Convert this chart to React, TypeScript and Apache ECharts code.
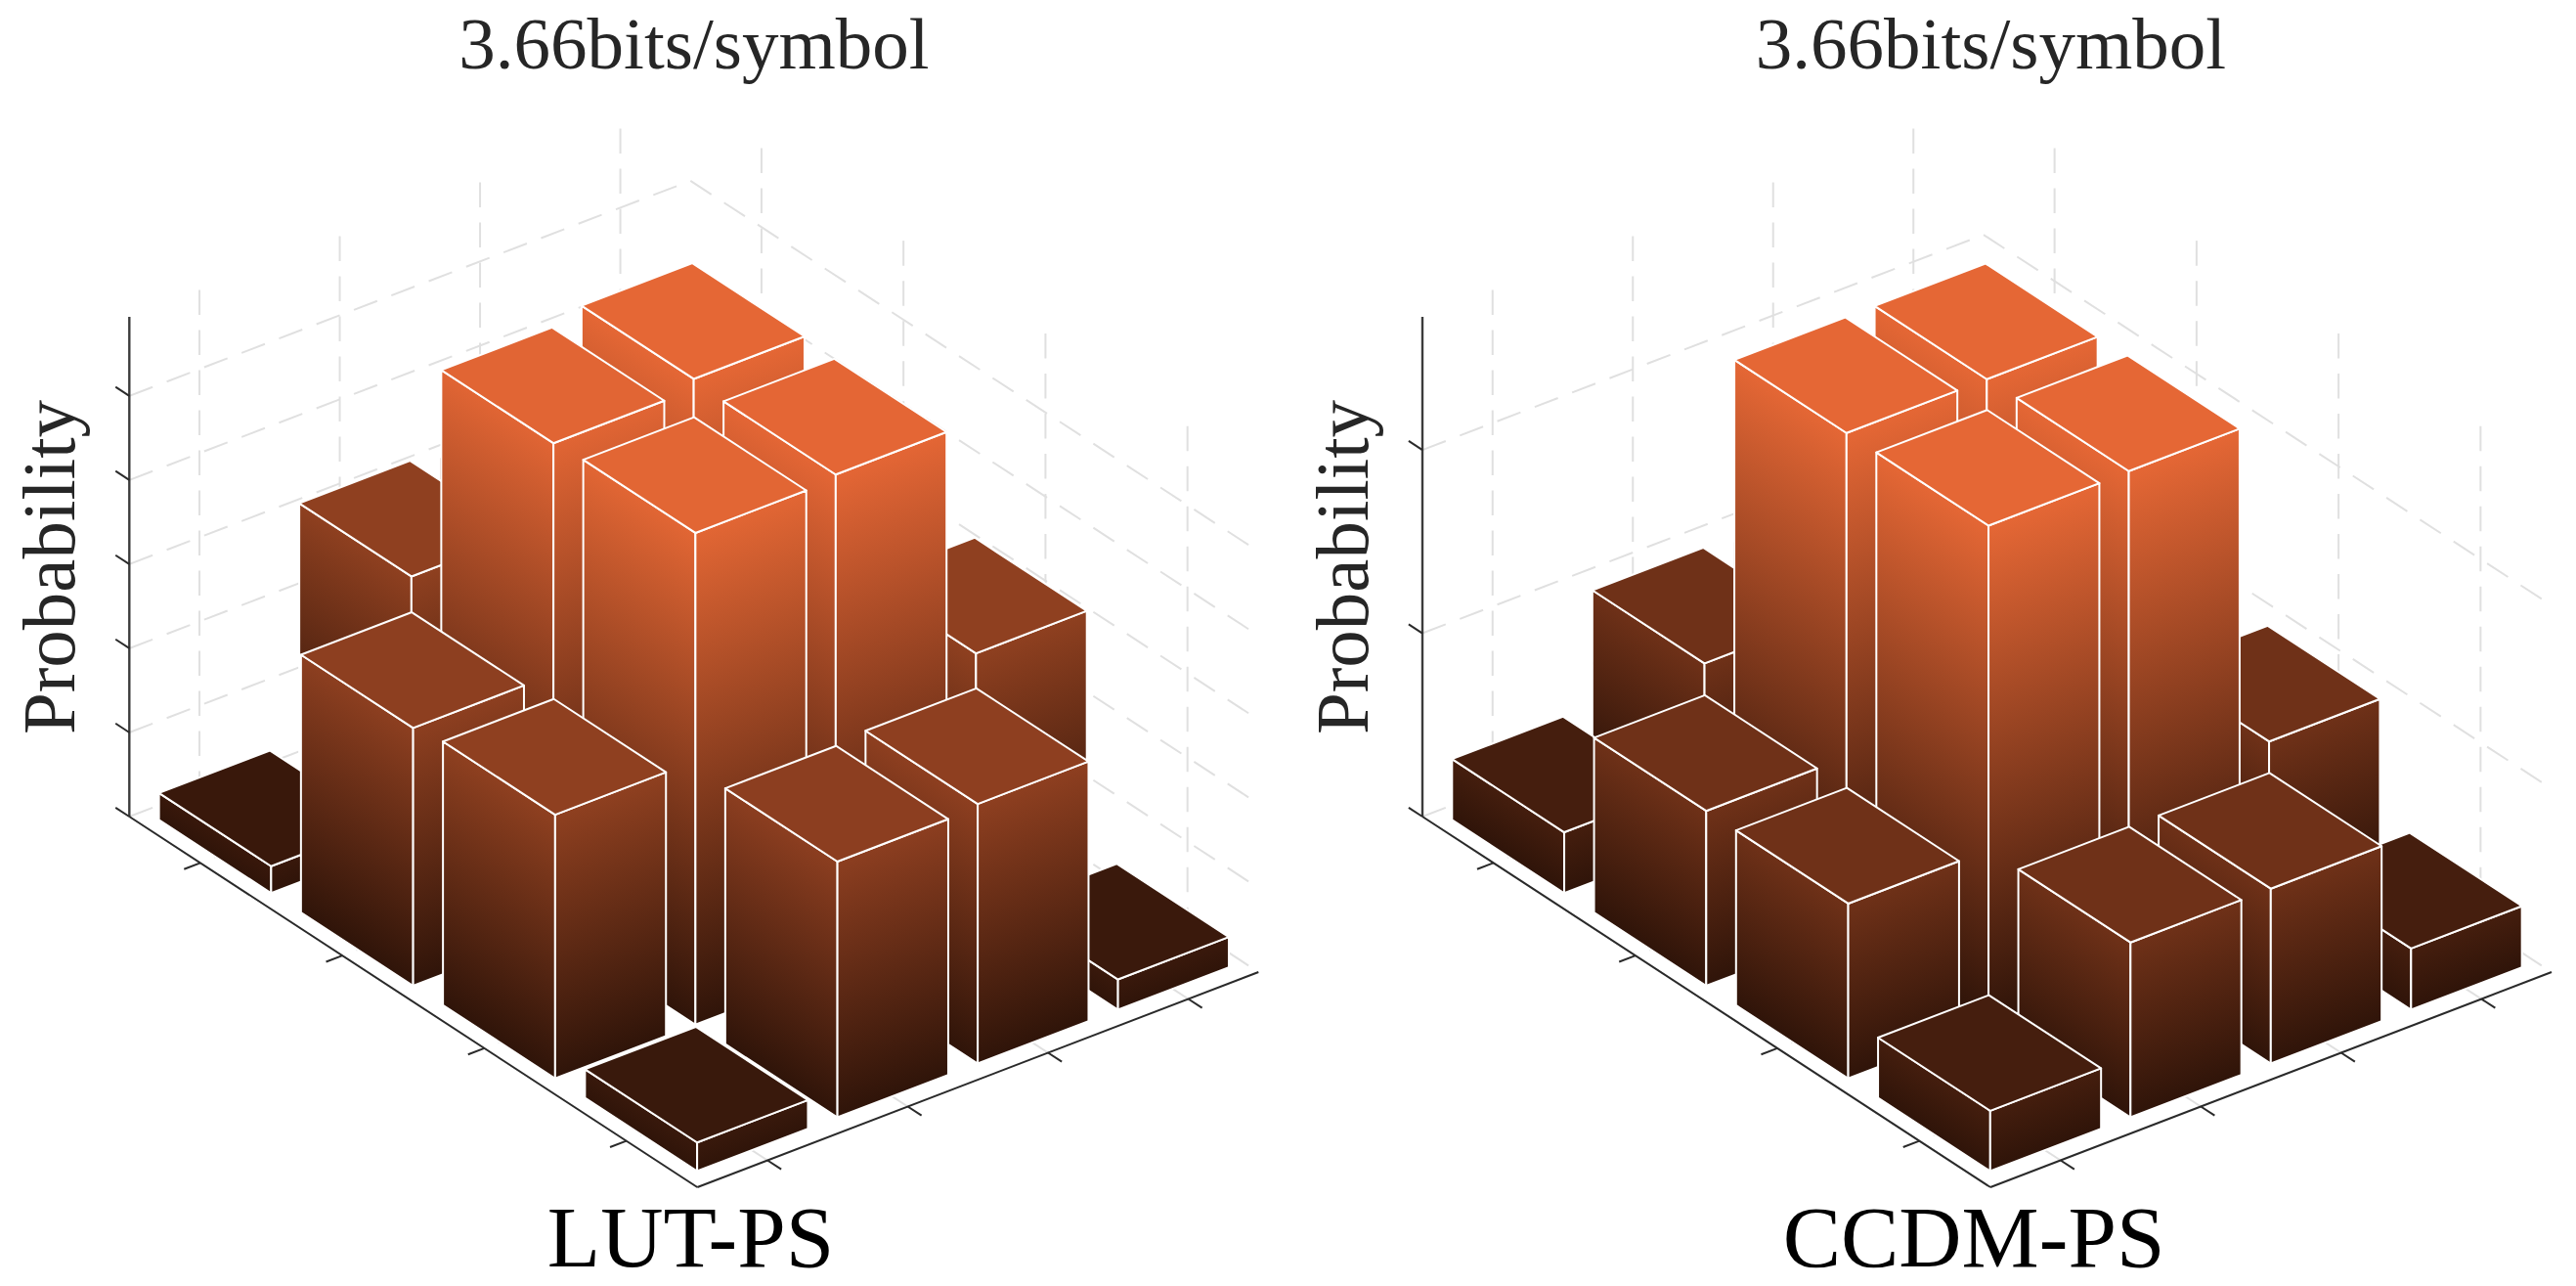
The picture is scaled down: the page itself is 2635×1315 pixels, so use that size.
import React, { useEffect, useRef } from "react";
import * as echarts from "echarts";

const lutHeights = [
  [0.0068, 0.0608, 0.0617, 0.0072],
  [0.0627, 0.1169, 0.118, 0.0627],
  [0.0613, 0.1162, 0.1187, 0.0610],
  [0.0064, 0.0625, 0.0610, 0.0066],
];
const ccdmHeights = [
  [0.01645, 0.0477, 0.0477, 0.0167],
  [0.0477, 0.1361, 0.1363, 0.0479],
  [0.0477, 0.1361, 0.1361, 0.047],
  [0.0166, 0.048, 0.047, 0.0166],
];
const lutZTicks = [0, 0.02, 0.04, 0.06, 0.08, 0.1];
const ccdmZTicks = [0, 0.05, 0.1];
const floorTicks = [0.5, 1.5, 2.5, 3.5];
const lutZTop = 0.1188;
const ccdmZTop = 0.1363;
const titleText = "3.66bits/symbol";
const yLabel = "Probability";
const lutLabel = "LUT-PS";
const ccdmLabel = "CCDM-PS";

const SERIF = '"Liberation Serif", serif';
const DARK = [47, 20, 9];
const ORANGE = [229, 103, 53];
const GRID_W = 1155;
const GRID_H = 1110;
const X_V = 143.5 / 145.25;
const F_U = 94.75 / GRID_H;
const F_V = 55 / GRID_H;
const GAP = 0.11;
const BAR = 0.79;

const mix = (t: number) => {
  const c = DARK.map((d, i) => Math.round(d + (ORANGE[i] - d) * t));
  return `rgb(${c[0]},${c[1]},${c[2]})`;
};

function panelSeries(index: number, heights: number[][], zTicks: number[], zTop: number) {
  const yMax = (zTop * GRID_H) / 511;
  const proj = (api: any, u: number, v: number, z: number) =>
    api.coord([v * X_V - u, z + yMax * (u * F_U + v * F_V)]);

  const dash = (a: number[], b: number[]) => ({
    type: "line",
    shape: { x1: a[0], y1: a[1], x2: b[0], y2: b[1] },
    style: { stroke: "#e0e0e0", lineWidth: 2, lineDash: [25.5, 15.5], fill: null },
  });
  const solid = (a: number[], b: number[], stroke = "#2a2a2a", lineWidth = 2) => ({
    type: "line",
    shape: { x1: a[0], y1: a[1], x2: b[0], y2: b[1] },
    style: { stroke, lineWidth, fill: null },
  });

  const axes = { xAxisIndex: index, yAxisIndex: index, silent: true, type: "custom" as const };

  const wallSeries = {
    ...axes,
    data: zTicks.map((z) => [z]),
    renderItem: (_: any, api: any) => {
      const z = api.value(0);
      return {
        type: "group",
        children: [
          dash(proj(api, 4, 0, z), proj(api, 4, 4, z)),
          dash(proj(api, 4, 4, z), proj(api, 0, 4, z)),
        ],
      };
    },
  };

  const verticalSeries = {
    ...axes,
    data: floorTicks.map((t) => [t]),
    renderItem: (_: any, api: any) => {
      const t = api.value(0);
      return {
        type: "group",
        children: [
          dash(proj(api, 4, t, zTop), proj(api, 4, t, 0)),
          dash(proj(api, t, 4, zTop), proj(api, t, 4, 0)),
          dash(proj(api, t, 4, 0), proj(api, t, 0, 0)),
          dash(proj(api, 0, t, 0), proj(api, 4, t, 0)),
        ],
      };
    },
  };

  const frameSeries = {
    ...axes,
    data: [[0]],
    renderItem: (_: any, api: any) => ({
      type: "group",
      children: [
        solid(proj(api, 4, 0, 0), proj(api, 4, 0, zTop), "#3c3c3c", 2.4),
        solid(proj(api, 4, 0, 0), proj(api, 0, 0, 0)),
        solid(proj(api, 0, 0, 0), proj(api, 0, 4, 0)),
      ],
    }),
  };

  const zTickSeries = {
    ...axes,
    data: zTicks.map((z) => [z]),
    renderItem: (_: any, api: any) => {
      const z = api.value(0);
      return solid(proj(api, 4, 0, z), proj(api, 4.097, 0, z));
    },
  };

  const floorTickSeries = {
    ...axes,
    data: floorTicks.map((t) => [t]),
    renderItem: (_: any, api: any) => {
      const t = api.value(0);
      return {
        type: "group",
        children: [
          solid(proj(api, t, 0, 0), proj(api, t, -0.116, 0)),
          solid(proj(api, 0, t, 0), proj(api, -0.097, t, 0)),
        ],
      };
    },
  };

  const barData: number[][] = [];
  heights.forEach((row, u) => row.forEach((h, v) => barData.push([u, v, h])));
  barData.sort((a, b) => b[0] + b[1] - (a[0] + a[1]));

  const barSeries = {
    ...axes,
    data: barData,
    renderItem: (_: any, api: any) => {
      const u0 = api.value(0) + GAP;
      const v0 = api.value(1) + GAP;
      const u1 = u0 + BAR;
      const v1 = v0 + BAR;
      const h = api.value(2);
      const topColor = mix(h / zTop);
      const ftb = proj(api, u0, v0, 0);
      const ftt = proj(api, u0, v0, h);
      const lb = proj(api, u1, v0, 0);
      const lt = proj(api, u1, v0, h);
      const rb = proj(api, u0, v1, 0);
      const rt = proj(api, u0, v1, h);
      const bt = proj(api, u1, v1, h);
      const grad = (a: number[], b: number[]) => {
        const ex = b[0] - a[0];
        const ey = b[1] - a[1];
        const len = Math.hypot(ex, ey);
        const ux = ex / len;
        const uy = ey / len;
        const vy = ftt[1] - ftb[1];
        const dot = vy * uy;
        const gx = -dot * ux;
        const gy = vy - dot * uy;
        return new echarts.graphic.LinearGradient(
          a[0], a[1], a[0] + gx, a[1] + gy,
          [
            { offset: 0, color: mix(0) },
            { offset: 1, color: topColor },
          ],
          true
        );
      };
      const edge = { stroke: "#ffffff", lineWidth: 2, lineJoin: "round" };
      return {
        type: "group",
        children: [
          {
            type: "polygon",
            shape: { points: [lb, ftb, ftt, lt] },
            style: { fill: grad(lb, ftb), ...edge },
          },
          {
            type: "polygon",
            shape: { points: [ftb, rb, rt, ftt] },
            style: { fill: grad(ftb, rb), ...edge },
          },
          {
            type: "polygon",
            shape: { points: [ftt, rt, bt, lt] },
            style: { fill: topColor, ...edge },
          },
        ],
      };
    },
  };

  return {
    yMax,
    series: [wallSeries, verticalSeries, frameSeries, zTickSeries, floorTickSeries, barSeries],
  };
}

const text = (t: string, x: number, y: number, size: number, fill: string, rotation = 0) => ({
  type: "text",
  x,
  y,
  rotation,
  silent: true,
  style: {
    text: t,
    fontFamily: SERIF,
    fontSize: size,
    fill,
    textAlign: "center",
    textVerticalAlign: "middle",
  },
});

export default function App() {
  const ref = useRef<HTMLDivElement>(null);
  useEffect(() => {
    const chart = echarts.init(ref.current!, undefined, { renderer: "svg" });
    const left = panelSeries(0, lutHeights, lutZTicks, lutZTop);
    const right = panelSeries(1, ccdmHeights, ccdmZTicks, ccdmZTop);
    const xAxis = (gridIndex: number) => ({
      type: "value" as const,
      gridIndex,
      min: -4,
      max: 4 * X_V,
      show: false,
    });
    const yAxis = (gridIndex: number, max: number) => ({
      type: "value" as const,
      gridIndex,
      min: 0,
      max,
      show: false,
    });
    chart.setOption({
      animation: false,
      backgroundColor: "#ffffff",
      grid: [
        { left: 132.3, top: 104, width: GRID_W, height: GRID_H },
        { left: 1455, top: 104, width: GRID_W, height: GRID_H },
      ],
      xAxis: [xAxis(0), xAxis(1)],
      yAxis: [yAxis(0, left.yMax), yAxis(1, right.yMax)],
      series: [...left.series, ...right.series],
      graphic: [
        text(titleText, 710, 44, 75, "#262626"),
        text(titleText, 2036.5, 44, 75, "#262626"),
        text(yLabel, 50, 580, 77, "#262626", Math.PI / 2),
        text(yLabel, 1373, 580, 77, "#262626", Math.PI / 2),
        text(lutLabel, 706.5, 1265, 89, "#000000"),
        text(ccdmLabel, 2019, 1265, 89, "#000000"),
      ],
    });
    return () => chart.dispose();
  }, []);
  return (
    <div
      ref={ref}
      style={{ position: "fixed", left: 0, top: 0, width: 2635, height: 1315 }}
    />
  );
}
